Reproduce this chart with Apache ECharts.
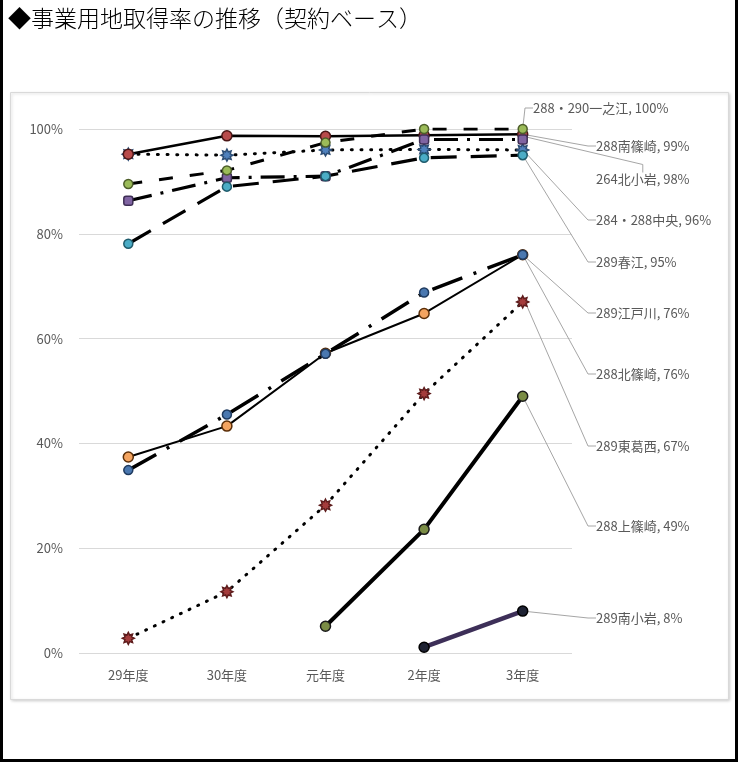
<!DOCTYPE html>
<html>
<head>
<meta charset="utf-8">
<script src="https://cdn.jsdelivr.net/npm/echarts@6/dist/echarts.min.js"></script>
<style>
  html, body { margin: 0; padding: 0; background: #fff; }
  #chart { width: 740px; height: 762px; }
</style>
</head>
<body>
<div id="chart"></div>
<script>
// ---- data (contract-based land acquisition rate, %) ----
const years = ['29年度', '30年度', '元年度', '2年度', '3年度'];
const yTicks = [0, 20, 40, 60, 80, 100];

const minamiShinozaki = [95.2, 98.7, 98.6, 98.8, 99];
const chuo            = [95.2, 95.0, 96.0, 96.1, 96];
const harue           = [78.1, 89.0, 91.0, 94.5, 95];
const kitaKoiwa       = [86.3, 90.7, 91.0, 98.0, 98];
const ichinoe         = [89.5, 92.1, 97.4, 100, 100];
const edogawa         = [37.4, 43.3, 57.2, 64.8, 76];
const kitaShinozaki   = [34.9, 45.5, 57.1, 68.8, 76];
const higashiKasai    = [2.8, 11.7, 28.2, 49.5, 67];
const kamiShinozaki   = [null, null, 5.1, 23.6, 49];
const minamiKoiwa     = [null, null, null, 1.1, 8];

const routeNames = {
  minamiShinozaki: '288南篠崎',
  chuo: '284・288中央',
  harue: '289春江',
  kitaKoiwa: '264北小岩',
  ichinoe: '288・290一之江',
  edogawa: '289江戸川',
  kitaShinozaki: '288北篠崎',
  higashiKasai: '289東葛西',
  kamiShinozaki: '288上篠崎',
  minamiKoiwa: '289南小岩'
};

// ---- styling ----
const FONT = '"Noto Sans CJK JP", "Noto Sans", sans-serif';
const TEXT_GREY = '#595959';

// burst-shaped marker
function burstPath(n, inner) {
  let d = '';
  for (let i = 0; i < 2 * n; i++) {
    const a = i * Math.PI / n - Math.PI / 2;
    const r = i % 2 ? inner : 1;
    d += (i ? 'L' : 'M') + (1 + r * Math.cos(a)).toFixed(3) + ' ' + (1 + r * Math.sin(a)).toFixed(3);
  }
  return 'path://' + d + 'Z';
}
const BURST = burstPath(8, 0.6);

// per-series look (drawing order: later entries sit on top); label placement on the right
const looks = [
  { key: 'chuo', data: chuo, line: { width: 3, type: [1, 8.7], cap: 'round' },
    symbol: BURST, size: 12, fill: '#4F81BD', border: '#2C4D75', labelX: 592, labelY: 220 },
  { key: 'minamiShinozaki', data: minamiShinozaki, line: { width: 2.5, type: 'solid' },
    symbol: 'circle', size: 10, fill: '#B84B4B', border: '#4a1616', labelX: 592, labelY: 146 },
  { key: 'kitaKoiwa', data: kitaKoiwa, line: { width: 3.2, type: [24, 9, 3, 9] },
    symbol: 'roundRect', size: 9, fill: '#8064A2', border: '#3e2e55', labelX: 592, labelY: 179 },
  { key: 'harue', data: harue, line: { width: 3.2, type: [26, 14] },
    symbol: 'circle', size: 9, fill: '#4BACC6', border: '#1f5b6c', labelX: 592, labelY: 262 },
  { key: 'ichinoe', data: ichinoe, line: { width: 3, type: [14, 17] },
    symbol: 'circle', size: 9, fill: '#9BBB59', border: '#4d5e2a', labelX: 529, labelY: 108 },
  { key: 'edogawa', data: edogawa, line: { width: 2, type: 'solid' },
    symbol: 'circle', size: 10, fill: '#F4A460', border: '#5a2e08', labelX: 592, labelY: 313 },
  { key: 'kitaShinozaki', data: kitaShinozaki, line: { width: 3.5, type: [32, 12, 3, 12] },
    symbol: 'circle', size: 9, fill: '#4A78B0', border: '#1f3b60', labelX: 592, labelY: 374 },
  { key: 'higashiKasai', data: higashiKasai, line: { width: 3, type: [1, 8.6], cap: 'round' },
    symbol: BURST, size: 12, fill: '#A43C3C', border: '#5e1c1c', labelX: 592, labelY: 446 },
  { key: 'kamiShinozaki', data: kamiShinozaki, line: { width: 4, type: 'solid' },
    symbol: 'circle', size: 10, fill: '#7A8C45', border: '#1a1a1a', labelX: 592, labelY: 526 },
  { key: 'minamiKoiwa', data: minamiKoiwa, line: { width: 4.5, type: 'solid', color: '#3D2F58' },
    symbol: 'circle', size: 10, fill: '#1E2233', border: '#000000', labelX: 592, labelY: 618 }
];

function buildSeries(look) {
  const lastIdx = look.data.length - 1;
  return {
    name: routeNames[look.key],
    type: 'line',
    data: look.data.map((v, i) => i === lastIdx
      ? { value: v, label: { show: true }, labelLine: { show: true } }
      : v),
    connectNulls: false,
    showSymbol: true,
    showAllSymbol: true,
    symbol: look.symbol,
    symbolSize: look.size,
    symbolKeepAspect: true,
    lineStyle: {
      color: look.line.color || '#000000',
      width: look.line.width,
      type: look.line.type,
      cap: look.line.cap || 'butt'
    },
    itemStyle: { color: look.fill, borderColor: look.border, borderWidth: 1.5 },
    label: {
      show: false,
      formatter: p => p.seriesName + ', ' + Math.round(p.value) + '%',
      color: TEXT_GREY,
      fontSize: 13,
      fontFamily: FONT,
      padding: [0, 0, 0, 4]
    },
    labelLine: { show: false, length2: 8, lineStyle: { color: '#A6A6A6', width: 1 } },
    labelLayout: { x: look.labelX, y: look.labelY, align: 'left', verticalAlign: 'middle' },
    emphasis: { disabled: true }
  };
}

const chart = echarts.init(document.getElementById('chart'), null, { renderer: 'canvas' });
chart.setOption({
  animation: false,
  backgroundColor: '#ffffff',
  title: {
    text: '◆事業用地取得率の推移（契約ベース）',
    left: 3, top: 2,
    textStyle: { fontSize: 23, fontWeight: 300, color: '#000000', fontFamily: FONT }
  },
  graphic: [
    { type: 'rect', z: -10, silent: true,
      shape: { x: 10.5, y: 92.5, width: 718, height: 607 },
      style: { fill: '#ffffff', stroke: '#D9D9D9', lineWidth: 1,
               shadowBlur: 3, shadowColor: 'rgba(0,0,0,0.18)', shadowOffsetX: 1, shadowOffsetY: 1 } },
    { type: 'rect', z: 100, silent: true,
      shape: { x: 1.5, y: -10, width: 735, height: 770.5 },
      style: { fill: 'none', stroke: '#000000', lineWidth: 3 } }
  ],
  grid: { left: 79, top: 129, width: 493, height: 524, containLabel: false },
  xAxis: {
    type: 'category',
    data: years,
    boundaryGap: true,
    axisLine: { show: false },
    axisTick: { show: false },
    axisLabel: { color: TEXT_GREY, fontSize: 13, fontFamily: FONT, margin: 16 }
  },
  yAxis: {
    type: 'value',
    min: yTicks[0],
    max: yTicks[yTicks.length - 1],
    interval: yTicks[1] - yTicks[0],
    axisLine: { show: false },
    axisTick: { show: false },
    splitLine: { lineStyle: { color: '#D9D9D9', width: 1 } },
    axisLabel: { color: TEXT_GREY, fontSize: 13, fontFamily: FONT, margin: 16, formatter: '{value}%' }
  },
  series: looks.map(buildSeries)
});
</script>
</body>
</html>
